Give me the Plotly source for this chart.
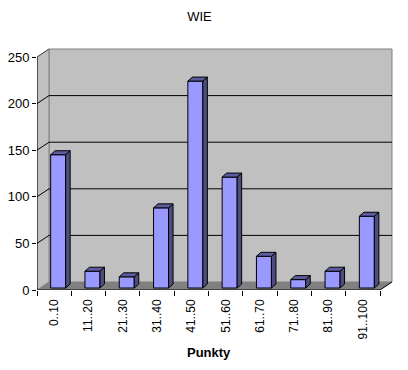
import plotly.graph_objects as go

# ---- data ----
categories = ["0..10", "11..20", "21..30", "31..40", "41..50",
              "51..60", "61..70", "71..80", "81..90", "91..100"]
values = [143, 18, 12, 86, 222, 119, 34, 9, 18, 77]
y_ticks = [0, 50, 100, 150, 200, 250]
title_text = "WIE"
x_title = "Punkty"

# ---- geometry helpers (pixel -> data units) ----
OFF = 8                      # default page body margin
W, H = 408 - OFF, 370 - OFF
L, T = 37 - OFF, 47 - OFF
PW, PH = 357, 243
PXC = 34.3      # pixels per category
PXV = 0.932     # pixels per value unit
x_range = [-0.5, -0.5 + PW / PXC]
y_range = [0, PH / PXV]

DX, DY = 12 / PXC, 8 / PXV          # wall depth
BOFF = 4 / PXC                      # bar front-face shift
BW = 15 / PXC                       # bar width
BB = 2 / PXV                        # bar base shift
BDX, BDY = 4.5 / PXC, 4 / PXV       # bar depth

n = len(categories)
x0, x1 = -0.5, n - 0.5
ytop = y_ticks[-1]

FRONT = "#9999ff"
SIDE = "#4d4d82"
TOP = "#5c5c9e"
WALL = "#c0c0c0"
FLOOR = "#808080"

shapes = []
# back wall
shapes.append(dict(type="rect", xref="x", yref="y", x0=x0 + DX, x1=x1 + DX,
                   y0=DY, y1=ytop + DY, fillcolor=WALL,
                   line=dict(color="#808080", width=1), layer="below"))
# left wall
shapes.append(dict(type="path", xref="x", yref="y",
                   path=f"M {x0},0 L {x0+DX},{DY} L {x0+DX},{ytop+DY} L {x0},{ytop} Z",
                   fillcolor=WALL, line=dict(color="#808080", width=1), layer="below"))
# floor
shapes.append(dict(type="path", xref="x", yref="y",
                   path=f"M {x0},0 L {x1},0 L {x1+DX},{DY} L {x0+DX},{DY} Z",
                   fillcolor=FLOOR, line=dict(width=0), layer="below"))
# gridlines
for v in y_ticks[1:-1]:
    shapes.append(dict(type="line", xref="x", yref="y", x0=x0 + DX, x1=x1 + DX,
                       y0=v + DY, y1=v + DY, line=dict(color="black", width=1), layer="below"))
for v in y_ticks[1:]:
    shapes.append(dict(type="line", xref="x", yref="y", x0=x0, x1=x0 + DX,
                       y0=v, y1=v + DY,
                       line=dict(color="black" if v != ytop else "#555555", width=1),
                       layer="below"))
# axis lines
shapes.append(dict(type="line", xref="x", yref="y", x0=x0, x1=x0, y0=0, y1=ytop,
                   line=dict(color="black", width=1), layer="below"))
shapes.append(dict(type="line", xref="x", yref="y", x0=x0, x1=x1, y0=0, y1=0,
                   line=dict(color="black", width=1), layer="below"))
shapes.append(dict(type="line", xref="x", yref="y", x0=x1, x1=x1 + DX, y0=0, y1=DY,
                   line=dict(color="black", width=1), layer="below"))

fig = go.Figure()

xs = list(range(n))
# side and top faces
for i, v in enumerate(values):
    xl = i + BOFF - BW / 2
    xr = i + BOFF + BW / 2
    b = BB
    t = BB + v
    fig.add_trace(go.Scatter(
        x=[xr, xr + BDX, xr + BDX, xr, xr],
        y=[b, b + BDY, t + BDY, t, b],
        mode="lines", fill="toself", fillcolor=SIDE,
        line=dict(color="black", width=1), hoverinfo="skip", showlegend=False))
    fig.add_trace(go.Scatter(
        x=[xl, xl + BDX, xr + BDX, xr, xl],
        y=[t, t + BDY, t + BDY, t, t],
        mode="lines", fill="toself", fillcolor=TOP,
        line=dict(color="black", width=1), hoverinfo="skip", showlegend=False))

fig.add_trace(go.Bar(
    x=[i + BOFF for i in xs], y=values, base=BB, width=BW,
    marker=dict(color=FRONT, line=dict(color="black", width=1)),
    showlegend=False, customdata=categories,
    hovertemplate="%{customdata}: %{y}<extra></extra>"))

FONT = "Liberation Sans, Arial, sans-serif"

fig.update_layout(
    width=W, height=H, autosize=False,
    margin=dict(l=L, r=W - L - PW, t=T, b=H - T - PH, pad=0, autoexpand=False),
    paper_bgcolor="white", plot_bgcolor="rgba(0,0,0,0)",
    shapes=shapes,
    title=dict(text=title_text, x=(199.5 - OFF) / W, xanchor="center",
               y=1 - (16 - OFF) / H, yanchor="middle",
               font=dict(family=FONT, size=13, color="black")),
    font=dict(family=FONT, color="black"),
    xaxis=dict(range=x_range, tickmode="array", tickvals=xs, ticktext=categories,
               tickangle=-90, ticks="", showgrid=False, zeroline=False,
               showline=False, tickfont=dict(size=12, family=FONT),
               ticklabelstandoff=6, automargin=False,
               minor=dict(tick0=-0.5, dtick=1, ticks="outside", ticklen=5,
                          tickcolor="black", showgrid=False)),
    yaxis=dict(range=y_range, tickmode="array", tickvals=y_ticks,
               ticks="outside", ticklen=4, tickcolor="black", automargin=False,
               showgrid=False, zeroline=False, showline=False,
               tickfont=dict(size=13, family=FONT)),
    annotations=[dict(text=f"<b>{x_title}</b>", xref="x", yref="paper",
                      x=(x0 + x1) / 2, y=(0 - 62) / PH, yanchor="middle",
                      xanchor="center", showarrow=False,
                      font=dict(family=FONT, size=13, color="black"))],
)

fig.write_html("out.html")
